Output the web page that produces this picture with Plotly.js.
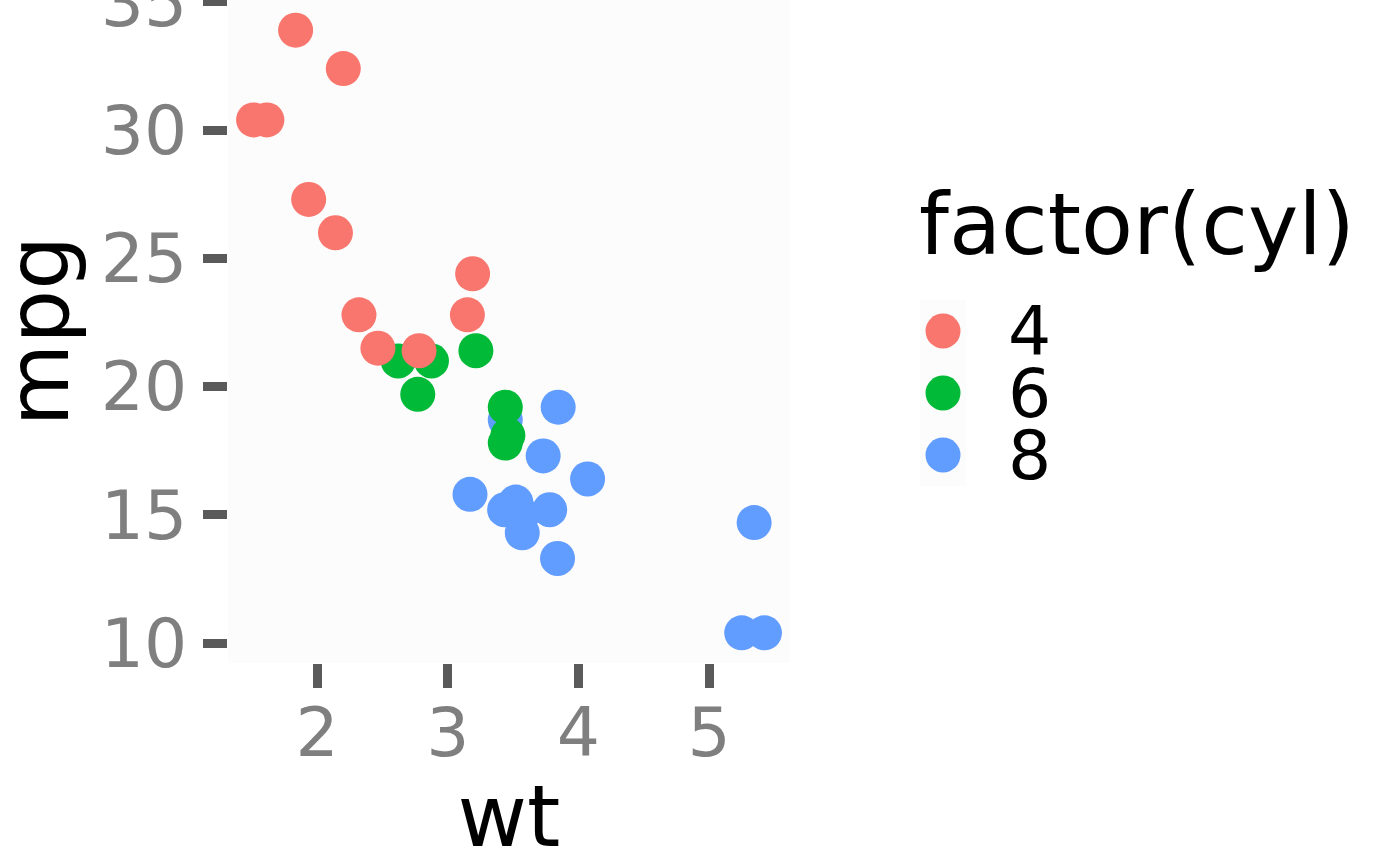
<!DOCTYPE html>
<html>
<head>
<meta charset="utf-8">
<script src="https://cdn.plot.ly/plotly-3.0.1.min.js"></script>
<style>html,body{margin:0;padding:0;background:#fff;}#chart{width:1400px;height:866px;}</style>
</head>
<body>
<div id="chart"></div>
<script>
// mtcars: weight (1000 lbs), miles per gallon, cylinders (row order)
const wt  = [2.620, 2.875, 2.320, 3.215, 3.440, 3.460, 3.570, 3.190, 3.150, 3.440, 3.440, 4.070, 3.730, 3.780, 5.250, 5.424, 5.345, 2.200, 1.615, 1.835, 2.465, 3.520, 3.435, 3.840, 3.845, 1.935, 2.140, 1.513, 3.170, 2.770, 3.570, 2.780];
const mpg = [21.0, 21.0, 22.8, 21.4, 18.7, 18.1, 14.3, 24.4, 22.8, 19.2, 17.8, 16.4, 17.3, 15.2, 10.4, 10.4, 14.7, 32.4, 30.4, 33.9, 21.5, 15.5, 15.2, 13.3, 19.2, 27.3, 26.0, 30.4, 15.8, 19.7, 15.0, 21.4];
const cyl = [6, 6, 4, 6, 8, 6, 8, 4, 4, 6, 6, 8, 8, 8, 8, 8, 8, 4, 4, 4, 4, 8, 8, 8, 8, 4, 4, 4, 8, 6, 8, 4];

const cylLevels = ['4', '6', '8'];
const cylColors = ['#F8766D', '#00BA38', '#619CFF'];
const xTicks = [2, 3, 4, 5];
const yTicks = [10, 15, 20, 25, 30, 35];
const legendTitle = 'factor(cyl)';
const xTitle = 'wt';
const yTitle = 'mpg';

const FONT = 'DejaVu Sans, sans-serif';
const colorOf = c => cylColors[cylLevels.indexOf(String(c))];

function expand(arr, f) {
  const lo = Math.min(...arr), hi = Math.max(...arr), d = (hi - lo) * f;
  return [lo - d, hi + d];
}

const W = 1400, H = 866, ML = 228, MB = 203, MT = 0, MR = 0;
const plotW = W - ML - MR, plotH = H - MT - MB;
const panelRight = 790;

// legend key area in pixels
const keyLeft = 920, keyW = 46, keyTop = 300, keyItemH = 62;
const px2fx = p => (p - ML) / plotW;
const py2fy = p => (plotH - (p - MT)) / plotH;

const TICK_SIZE = 68, TITLE_SIZE = 85;

const points = {
  type: 'scatter', mode: 'markers',
  x: wt, y: mpg,
  xaxis: 'x', yaxis: 'y',
  marker: { size: 35, color: cyl.map(colorOf), line: { width: 0 } },
  hoverinfo: 'x+y', showlegend: false
};

const keys = {
  type: 'scatter', mode: 'markers',
  x: cylLevels.map(() => 0.5), y: cylLevels,
  xaxis: 'x2', yaxis: 'y2',
  marker: { size: 35, color: cylColors, line: { width: 0 } },
  hoverinfo: 'skip', showlegend: false, cliponaxis: false
};

const annotations = [
  {
    text: legendTitle, xref: 'paper', yref: 'paper',
    x: px2fx(keyLeft - 3), y: py2fy(224), xanchor: 'left', yanchor: 'middle',
    showarrow: false, font: { family: FONT, size: TITLE_SIZE, color: '#000' }
  },
  {
    text: yTitle, xref: 'paper', yref: 'y domain',
    x: px2fx(38), y: 0.5, xanchor: 'center', yanchor: 'middle', textangle: -90,
    showarrow: false, font: { family: FONT, size: TITLE_SIZE, color: '#000' }
  }
].concat(cylLevels.map((l, i) => ({
  text: l, xref: 'x2', yref: 'y2', x: (1006 - keyLeft) / keyW, y: i,
  xanchor: 'left', yanchor: 'middle', showarrow: false,
  height: 60, valign: 'middle',
  font: { family: FONT, size: TICK_SIZE, color: '#000' }
})));

const layout = {
  width: W, height: H,
  margin: { l: ML, r: MR, t: MT, b: MB, pad: 0 },
  paper_bgcolor: '#FFFFFF',
  plot_bgcolor: 'rgba(0,0,0,0)',
  showlegend: false,
  font: { family: FONT },
  shapes: [
    { type: 'rect', xref: 'x domain', yref: 'y domain', x0: 0, x1: 1, y0: 0, y1: 1,
      fillcolor: '#FCFCFC', line: { width: 0 }, layer: 'below' },
    { type: 'rect', xref: 'x2', yref: 'y2 domain', x0: 0, x1: 1, y0: 0, y1: 1,
      fillcolor: '#FCFCFC', line: { width: 0 }, layer: 'below' }
  ],
  xaxis: {
    domain: [0, px2fx(panelRight)],
    range: expand(wt, 0.05),
    tickvals: xTicks, ticktext: xTicks.map(String),
    ticks: 'outside', ticklen: 24, tickwidth: 9, tickcolor: '#5A5A5A',
    ticklabelstandoff: -14, ticklabeloverflow: 'allow',
    tickfont: { family: FONT, size: TICK_SIZE, color: '#7F7F7F' },
    showgrid: false, zeroline: false, showline: false,
    title: { text: xTitle, font: { family: FONT, size: TITLE_SIZE, color: '#000' }, standoff: 41 },
    automargin: false, fixedrange: true, anchor: 'y'
  },
  yaxis: {
    domain: [0, 1],
    range: expand(mpg, 0.05),
    tickvals: yTicks, ticktext: yTicks.map(String),
    ticks: 'outside', ticklen: 24, tickwidth: 9, tickcolor: '#5A5A5A',
    ticklabelstandoff: 2, ticklabeloverflow: 'allow',
    tickfont: { family: FONT, size: TICK_SIZE, color: '#7F7F7F' },
    showgrid: false, zeroline: false, showline: false,
    automargin: false, fixedrange: true, anchor: 'x'
  },
  xaxis2: {
    domain: [px2fx(keyLeft), px2fx(keyLeft + 3 * keyW)],
    range: [0, 3], visible: false, fixedrange: true, anchor: 'y2'
  },
  yaxis2: {
    domain: [py2fy(keyTop + 3 * keyItemH), py2fy(keyTop)],
    type: 'category', categoryorder: 'array', categoryarray: cylLevels,
    range: [2.5, -0.5], visible: false, fixedrange: true, anchor: 'x2'
  },
  annotations: annotations
};

Plotly.newPlot('chart', [points, keys], layout, { displayModeBar: false, staticPlot: true });
</script>
</body>
</html>
